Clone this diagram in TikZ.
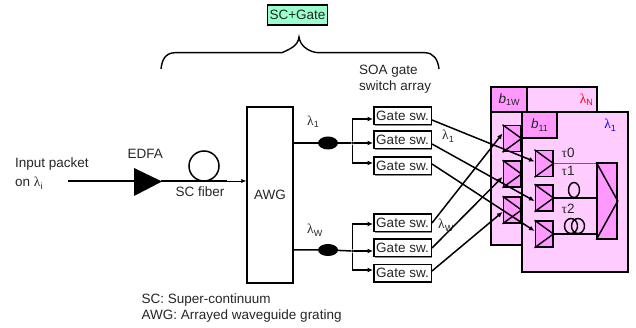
\documentclass[tikz,border=0pt]{standalone}
\usepackage{fontspec}
\setmainfont{Liberation Sans}
\newfontfamily\lamfont{Liberation Serif}
\usetikzlibrary{arrows.meta,shapes.geometric,shadows}
\definecolor{panelpink}{HTML}{FFCCFF}
\definecolor{soapink}{HTML}{FF99FF}
\definecolor{scgreen}{HTML}{99FFCC}
\tikzset{
  x=1pt,y=-1pt,
  shad/.style={drop shadow={shadow xshift=.9pt,shadow yshift=-.9pt,fill=black!45,opacity=1}},
  wire/.style={line width=1.5pt,draw=black},
  arrow/.style={wire,-{Latex[length=5.5pt,width=5pt]}},
  txt/.style={font=\fontsize{13.5}{15}\selectfont,text=black!85},
  gatebox/.style={txt,draw=black,line width=1.5pt,fill=white,minimum width=57.5pt,minimum height=17.5pt,inner sep=0pt,shad},
  lab/.style={txt,inner sep=0pt,anchor=west},
  panel/.style={draw=black,line width=1.6pt,fill=panelpink,outer sep=0pt},
  soa/.style={draw=black,line width=1.5pt,fill=soapink,minimum width=17.5pt,minimum height=26pt,inner sep=0pt,shad},
  dot/.style={fill=black,circle,inner sep=0pt,minimum size=3pt},
}
\newcommand{\lam}[1]{{\lamfont λ}\raisebox{-2.5pt}{\fontsize{9}{10}\selectfont #1}}
\newcommand{\soaglyph}[1]{\draw[line width=1.4pt] (#1.north west) -- (#1.east) -- (#1.south west);}
\begin{document}
\begin{tikzpicture}
\useasboundingbox (0,0) rectangle (636,328);
% top
\node[txt,draw=black,line width=1.6pt,fill=scgreen,minimum width=60pt,minimum height=19.5pt,inner sep=0pt,shad] (scg) at (297.5,15) {SC+Gate};
\draw[line width=1.4pt] (161,69) .. controls (162,60) and (165,53) .. (175,52.7) -- (282,52.7) .. controls (290,49) and (298,46) .. (299,37) .. controls (300,46) and (309,52) .. (318,52.7) -- (425,52.7) .. controls (434,53) and (438,60) .. (439,69);
% input
\node[lab] (in1) at (15,164) {Input packet};
\node[lab] (in2) at (15,183) {on \lam{i}};
\node[lab] (edfa) at (127.5,154) {EDFA};
\coordinate (istart) at (68,181);
\coordinate (ampin) at (134,181);
\coordinate (ampout) at (161,181);
\fill[black] (134,168) -- (162,181.5) -- (134,196) -- cycle;
\draw[wire] (istart) -- (ampin);
\node[draw=black,line width=1.5pt,circle,minimum size=30pt,inner sep=0pt] (fiber) at (204,166) {};
\node[txt,draw=black,line width=1.5pt,fill=white,minimum width=46pt,minimum height=176pt,inner sep=0pt,shad] (awg) at (270,195) {AWG};
\draw[wire] (ampout) -- (227,181);
\draw[line width=.9pt,-{Latex[length=5pt,width=4.5pt]}] (227,181) -- (awg.west |- 0,181);
\node[lab] (scf) at (175.5,192) {SC fiber};
\node[lab] (sc1) at (141.5,300) {SC: Super-continuum};
\node[lab] (sc2) at (141.5,316.5) {AWG: Arrayed waveguide grating};
% splitters
\node[lab] at (307,122) {\lam{1}};
\node[lab] at (307,230) {\lam{W}};
\node[fill=black,ellipse,minimum width=20pt,minimum height=13pt,inner sep=0pt] (c1) at (328,143) {};
\node[fill=black,ellipse,minimum width=20pt,minimum height=12pt,inner sep=0pt] (c2) at (328,250) {};
\node[dot] (j1) at (352.5,143) {};
\node[dot] (j2) at (352.5,251) {};
\draw[wire] (awg.east |- c1) -- (c1) -- (j1);
\draw[wire] (awg.east |- c2) -- (c2) -- (j2);
\node[lab] at (359,71) {SOA gate};
\node[lab] at (359,87) {switch array};
\node[gatebox] (g1) at (402.5,116) {Gate sw.};
\node[gatebox] (g2) at (402.5,140) {Gate sw.};
\node[gatebox] (g3) at (402.5,166) {Gate sw.};
\node[gatebox] (g4) at (402.5,223) {Gate sw.};
\node[gatebox] (g5) at (402.5,248) {Gate sw.};
\node[gatebox] (g6) at (402.5,273) {Gate sw.};
\draw[arrow] (j1) -- (j1 -| g2.west);
\draw[arrow] (j1) |- ([yshift=-3pt]g1.west);
\draw[arrow] (j1) |- ([yshift=3pt]g3.west);
\draw[arrow] (j2) -- (j2 -| g5.west);
\draw[arrow] (j2) |- ([yshift=-1pt]g4.west);
\draw[arrow] (j2) |- ([yshift=3pt]g6.west);
\node[lab] at (442,136) {\lam{1}};
\node[lab] at (438,225) {\lam{W}};
% rear panel
\node[panel,shad,minimum width=106pt,minimum height=158pt,inner sep=0pt,anchor=north west] (rear) at (491,87) {};
\node[panel,minimum width=70pt,minimum height=25pt,inner sep=0pt,anchor=north west] (rearhead) at (527,87) {};
\node[panel,minimum width=36pt,minimum height=25pt,inner sep=0pt,anchor=north west,fill=soapink] (b1w) at (491,87) {};
\node[txt,inner sep=0pt,font=\fontsize{13.5}{15}\selectfont\itshape] at (b1w) {b\raisebox{-2.5pt}{\fontsize{9}{10}\selectfont\upshape 1W}};
\node[anchor=east,inner sep=0pt,text=red,font=\fontsize{13.5}{15}\selectfont] at (593,100) {\lam{N}};
\node[soa] (r1) at (512,138.5) {};
\node[soa] (r2) at (512,174) {};
\node[soa] (r3) at (512,210) {};
\foreach \n in {r1,r2,r3}{\soaglyph{\n}}
% front panel
\node[panel,shad,minimum width=106pt,minimum height=160pt,inner sep=0pt,anchor=north west] (front) at (522,112) {};
\node[panel,minimum width=35pt,minimum height=26pt,inner sep=0pt,anchor=north west,fill=soapink] (b11) at (522,112) {};
\node[txt,inner sep=0pt,font=\fontsize{13.5}{15}\selectfont\itshape] at (b11) {b\raisebox{-2.5pt}{\fontsize{9}{10}\selectfont\upshape 11}};
\node[anchor=east,inner sep=0pt,text=blue,font=\fontsize{13.5}{15}\selectfont] at (616,125) {\lam{1}};
\node[soa] (f1) at (544,163.5) {};
\node[soa] (f2) at (544,198) {};
\node[soa] (f3) at (544,234) {};
\foreach \n in {f1,f2,f3}{\soaglyph{\n}}
\node[soa,minimum width=20pt,minimum height=76pt] (mux) at (607,201) {};
\draw[line width=1.5pt] (mux.north west) -- (mux.east) -- (mux.south west);
\draw[line width=.4pt,draw=black!60] (f1.east) -- (mux.west |- f1.east);
\draw[wire] (f2.east) -- (mux.west |- f2.east);
\draw[wire] (f3.east) -- (mux.west |- f3.east);
\draw[line width=1.4pt] (574,190) circle[x radius=5.5,y radius=7.5];
\draw[line width=1.4pt] (571,226) circle[x radius=6.5,y radius=7.5];
\draw[line width=1.4pt] (578,226) circle[x radius=6.5,y radius=7.5];
\node[lab] at (561.5,153) {{\lamfont τ}0};
\node[lab] at (561.5,171) {{\lamfont τ}1};
\node[lab] at (561.5,209) {{\lamfont τ}2};
% crossing
\draw[arrow] ([yshift=-4pt]g1.east) -- ([yshift=2pt]f1.west);
\draw[arrow] ([yshift=-4pt]g2.east) -- ([yshift=-3pt]f2.west);
\draw[arrow] ([yshift=2pt]g3.east) -- ([yshift=3pt]f3.west);
\draw[arrow] (g4.east) -- ([yshift=5pt]r1.west);
\draw[arrow] (g5.east) -- ([yshift=-3pt]r2.west);
\draw[arrow] ([yshift=2pt]g6.east) -- ([yshift=-2pt]r3.west);
\end{tikzpicture}
\end{document}
